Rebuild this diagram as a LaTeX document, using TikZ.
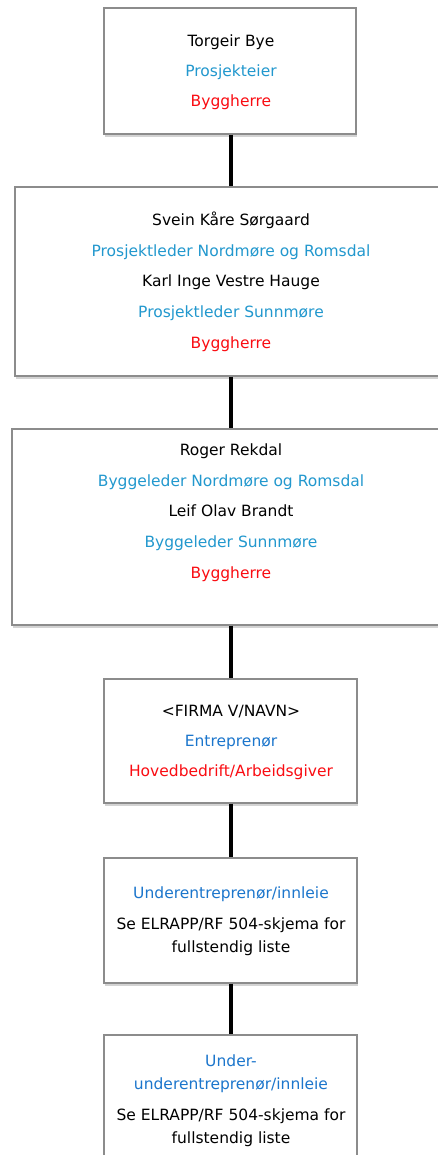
\documentclass[tikz,border=0pt]{standalone}
\usepackage{fontspec}
\setmainfont{DejaVu Sans}
\usetikzlibrary{shadows}
\definecolor{lblue}{RGB}{34,152,206}
\definecolor{dblue}{RGB}{28,118,204}
\definecolor{bred}{RGB}{250,12,18}
\definecolor{bordergray}{RGB}{140,140,140}
\tikzset{
  box/.style={draw=bordergray, line width=1.2pt, fill=white, rectangle, inner sep=0pt,
    drop shadow={opacity=0.35, shadow xshift=1pt, shadow yshift=-3pt}},
  txt/.style={anchor=base, inner sep=0pt, font=\fontsize{15.5}{18}\selectfont},
  link/.style={line width=4pt, black}
}
\begin{document}
\begin{tikzpicture}[x=1pt,y=-1pt]
\useasboundingbox (0,0) rectangle (438,1155);
\clip (0,0) rectangle (438,1155);
% boxes
\node[box, minimum width=252pt, minimum height=126pt] (b1) at (230,71) {};
\node[box, minimum width=432pt, minimum height=189pt] (b2) at (231,281.5) {};
\node[box, minimum width=438pt, minimum height=196pt] (b3) at (231,527) {};
\node[box, minimum width=253pt, minimum height=124pt] (b4) at (230.5,741) {};
\node[box, minimum width=253pt, minimum height=125pt] (b5) at (230.5,920.5) {};
\node[box, minimum width=253pt, minimum height=160pt] (b6) at (230.5,1115) {};
% texts
\node[txt] (t1a) at (231,46.5) {Torgeir Bye};
\node[txt, text=lblue] (t1b) at (231,76.5) {Prosjekteier};
\node[txt, text=bred] (t1c) at (231,106.5) {Byggherre};
\node[txt] (t2a) at (231,225.5) {Svein Kåre Sørgaard};
\node[txt, text=lblue] (t2b) at (231,256.5) {Prosjektleder Nordmøre og Romsdal};
\node[txt] (t2c) at (231,286.5) {Karl Inge Vestre Hauge};
\node[txt, text=lblue] (t2d) at (231,317.5) {Prosjektleder Sunnmøre};
\node[txt, text=bred] (t2e) at (231,348.5) {Byggherre};
\node[txt] (t3a) at (231,455.5) {Roger Rekdal};
\node[txt, text=lblue] (t3b) at (231,486.5) {Byggeleder Nordmøre og Romsdal};
\node[txt] (t3c) at (231,516.5) {Leif Olav Brandt};
\node[txt, text=lblue] (t3d) at (231,547.5) {Byggeleder Sunnmøre};
\node[txt, text=bred] (t3e) at (231,578.5) {Byggherre};
\node[txt] (t4a) at (231,716.5) {<FIRMA V/NAVN>};
\node[txt, text=dblue] (t4b) at (231,746.5) {Entreprenør};
\node[txt, text=bred] (t4c) at (231,776.5) {Hovedbedrift/Arbeidsgiver};
\node[txt, text=dblue] (t5a) at (231,898.5) {Underentreprenør/innleie};
\node[txt] (t5b) at (231,929.5) {Se ELRAPP/RF 504-skjema for};
\node[txt] (t5c) at (231,952.5) {fullstendig liste};
\node[txt, text=dblue] (t6a) at (231,1066.5) {Under-};
\node[txt, text=dblue] (t6b) at (231,1089.5) {underentreprenør/innleie};
\node[txt] (t6c) at (231,1120.5) {Se ELRAPP/RF 504-skjema for};
\node[txt] (t6d) at (231,1143.5) {fullstendig liste};
% connectors
\draw[link] (b1.south -| 231,0) -- (b2.north -| 231,0);
\draw[link] (b2.south -| 231,0) -- (b3.north -| 231,0);
\draw[link] (b3.south -| 231,0) -- (b4.north -| 231,0);
\draw[link] (b4.south -| 231,0) -- (b5.north -| 231,0);
\draw[link] (b5.south -| 231,0) -- (b6.north -| 231,0);
\end{tikzpicture}
\end{document}
